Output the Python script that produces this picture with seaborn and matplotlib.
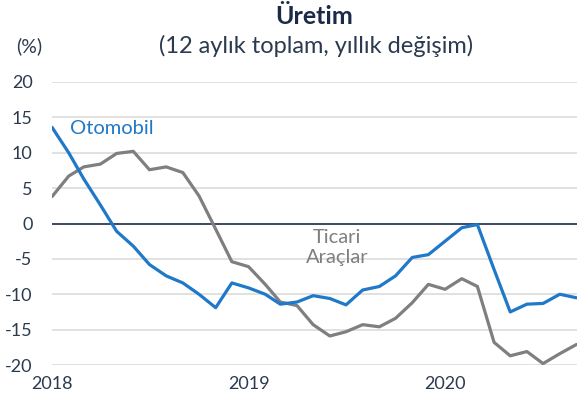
import numpy as np
import pandas as pd
import seaborn as sns
import matplotlib
matplotlib.use('Agg')
import matplotlib.pyplot as plt

# monthly data, Jan 2018 - Sep 2020
months = pd.date_range('2018-01-01', periods=33, freq='MS')
otomobil = [13.6, 10.0, 6.3, 2.6, -1.1, -3.2, -5.8, -7.4, -8.4, -10.0, -11.9, -8.4,
            -9.1, -10.0, -11.4, -11.1, -10.2, -10.6, -11.5, -9.4, -8.9, -7.4, -4.8, -4.4,
            -2.5, -0.6, -0.15, -6.5, -12.5, -11.4, -11.3, -10.0, -10.5]
ticari = [3.8, 6.7, 8.0, 8.4, 9.9, 10.2, 7.6, 8.0, 7.2, 3.9, -0.8, -5.4,
          -6.1, -8.6, -11.1, -11.6, -14.3, -15.9, -15.3, -14.3, -14.6, -13.4, -11.2, -8.6,
          -9.3, -7.8, -8.9, -16.8, -18.7, -18.1, -19.8, -18.4, -17.1]
year_ticks = ['2018', '2019', '2020']
y_ticks = [20, 15, 10, 5, 0, -5, -10, -15, -20]

blue = '#1f78c8'
gray = '#7f7f7f'
text_col = '#2b3a4f'

df = pd.DataFrame({'date': months, 'Otomobil': otomobil, 'Ticari Araçlar': ticari})

sns.set_style('white')
plt.rcParams['font.family'] = ['Lato', 'DejaVu Sans']

fig = plt.figure(figsize=(5.79, 4.03), dpi=100)
ax = fig.add_axes([52 / 579, 38 / 403, 525 / 579, 283 / 403])

for y in y_ticks:
    if y != 0:
        ax.axhline(y, color='#d9d9d9', lw=1.1, zorder=0)
ax.axhline(0, color='#1b2a47', lw=1.2, zorder=1)

sns.lineplot(data=df, x='date', y='Ticari Araçlar', color=gray, lw=2.3, ax=ax, zorder=3)
sns.lineplot(data=df, x='date', y='Otomobil', color=blue, lw=2.3, ax=ax, zorder=4)

ax.set_xlim(months[0], months[-1] + pd.Timedelta(days=1))
ax.set_ylim(-20, 20)
ax.set_yticks(y_ticks)
ax.set_yticklabels([str(v) for v in y_ticks])
ax.set_xticks([pd.Timestamp(y + '-01-01') for y in year_ticks])
ax.set_xticklabels(year_ticks)
ax.tick_params(axis='y', length=0, pad=14, labelsize=13, labelcolor=text_col)
ax.tick_params(axis='x', length=0, pad=8, labelsize=13, labelcolor=text_col)
ax.set_xlabel('')
ax.set_ylabel('')
for s in ax.spines.values():
    s.set_visible(False)

ax.text(0.034, 0.837, 'Otomobil', transform=ax.transAxes, color=blue,
        fontsize=14.5, va='center', ha='left')
ax.text(0.543, 0.415, 'Ticari\nAraçlar', transform=ax.transAxes, color=gray,
        fontsize=14.5, va='center', ha='center', linespacing=1.25)

fig.text(314 / 579, 1 - 17 / 403, 'Üretim', ha='center', va='center',
         fontsize=18, fontweight='bold', color='#1b2a47')
fig.text(316 / 579, 1 - 46 / 403, '(12 aylık toplam, yıllık değişim)', ha='center',
         va='center', fontsize=17, color=text_col)
fig.text(29 / 579, 1 - 46 / 403, '(%)', ha='center', va='center',
         fontsize=14, color=text_col)

fig.savefig('out.png', dpi=100)
plt.close(fig)
